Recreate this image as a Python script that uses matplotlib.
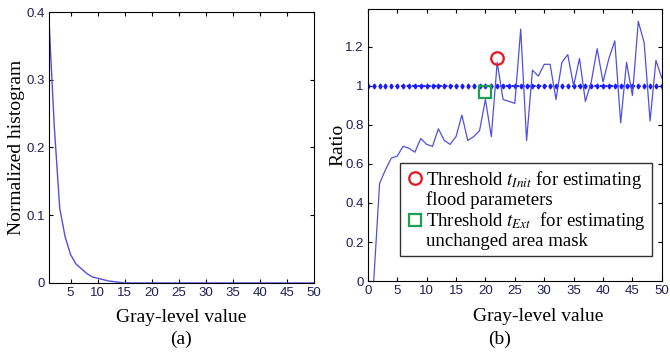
import numpy as np
import matplotlib
matplotlib.use('Agg')
import matplotlib.pyplot as plt
from matplotlib.lines import Line2D

plt.rcParams['mathtext.fontset'] = 'stix'

# (a) normalized histogram, gray levels 1..50
gray_a = np.arange(1, 51)
hist_a = [0.39, 0.23, 0.11, 0.068, 0.042, 0.028, 0.021, 0.014, 0.009, 0.007,
          0.005, 0.003, 0.002, 0.001] + [0.0] * 36

# (b) ratio, gray levels 1..50
gray_b = np.arange(1, 51)
ratio_b = [0.0, 0.50, 0.57, 0.63, 0.64, 0.69, 0.68, 0.66, 0.73, 0.70,
           0.69, 0.78, 0.72, 0.70, 0.74, 0.85, 0.72, 0.74, 0.77, 0.93,
           0.74, 1.12, 0.93, 0.92, 0.91, 1.29, 0.72, 1.08, 1.05, 1.11,
           1.11, 0.93, 1.12, 1.16, 1.00, 1.14, 0.92, 1.02, 1.19, 1.02,
           1.14, 1.23, 0.81, 1.12, 0.95, 1.33, 1.22, 0.82, 1.13, 1.04]
ref_x = np.arange(0, 51)
t_init = (22, 1.14)
t_ext = (20, 0.97)

line_col = '#5050e0'
tick_col = '#1e1e5a'
tick_font = ['Liberation Sans Narrow', 'Liberation Sans', 'DejaVu Sans']
serif = 'Liberation Serif'

fig = plt.figure(figsize=(6.7, 3.54), dpi=100)
ax1 = fig.add_axes([0.073, 0.2006, 0.396, 0.7655])
ax2 = fig.add_axes([0.549, 0.206, 0.4388, 0.7684])

for ax in (ax1, ax2):
    ax.tick_params(direction='in', top=True, right=True, length=3,
                   labelsize=9.5, labelcolor=tick_col, width=0.8, pad=3)
    for s in ax.spines.values():
        s.set_linewidth(0.8)

# panel (a)
ax1.plot(gray_a, hist_a, color=line_col, lw=1)
ax1.set_xlim(1, 50)
ax1.set_ylim(0, 0.4)
ax1.set_xticks(range(5, 51, 5))
ax1.set_yticks([0, 0.1, 0.2, 0.3, 0.4])
ax1.set_yticklabels(['0', '0.1', '0.2', '0.3', '0.4'], family=tick_font)
ax1.set_xticklabels([str(v) for v in range(5, 51, 5)], family=tick_font)
ax1.set_ylabel('Normalized histogram', family=serif, fontsize=14)
ax1.yaxis.set_label_coords(-0.09, 0.5)

# panel (b)
ax2.plot(ref_x, np.ones(len(ref_x)), color='#1a1aff', ls=':', lw=1.5,
         marker='d', ms=2.5)
ax2.plot(gray_b, ratio_b, color=line_col, lw=0.9)
ax2.plot(*t_init, marker='o', ms=9, mfc='none', mec='#e8141e', mew=1.6, ls='none')
ax2.plot(*t_ext, marker='s', ms=9, mfc='none', mec='#1aa050', mew=1.6, ls='none')
ax2.set_xlim(0, 50)
ax2.set_ylim(0, 1.393)
ax2.set_xticks(range(0, 51, 5))
ax2.set_xticklabels([str(v) for v in range(0, 51, 5)], family=tick_font)
ax2.set_yticks([0, 0.2, 0.4, 0.6, 0.8, 1.0, 1.2])
ax2.set_yticklabels(['0', '0.2', '0.4', '0.6', '0.8', '1', '1.2'], family=tick_font)
ax2.set_ylabel('Ratio', family=serif, fontsize=14)
ax2.yaxis.set_label_coords(-0.072, 0.5)

# legend: marker sits beside the first line of each two-line entry
blank = Line2D([], [], ls='none', marker='none')
handles = [Line2D([], [], marker='o', ms=9, mfc='none', mec='#e8141e', mew=1.6, ls='none'),
           blank,
           Line2D([], [], marker='s', ms=9, mfc='none', mec='#1aa050', mew=1.6, ls='none'),
           blank]
labels = ['Threshold $t_{Init}$ for estimating', 'flood parameters',
          'Threshold $t_{Ext}$  for estimating', 'unchanged area mask']
leg = ax2.legend(handles, labels, loc='lower left', bbox_to_anchor=(0.11, 0.092),
                 prop={'family': serif, 'size': 13.5}, fancybox=False, frameon=True,
                 edgecolor='black', handletextpad=0.1, handlelength=1.0,
                 labelspacing=0.05, borderpad=0.3, borderaxespad=0)
leg.get_frame().set_linewidth(1.0)

fig.text(0.270, 0.102, 'Gray-level value', family=serif, fontsize=14, ha='center', va='center')
fig.text(0.270, 0.04, '(a)', family=serif, fontsize=14, ha='center', va='center')
fig.text(0.803, 0.105, 'Gray-level value', family=serif, fontsize=14, ha='center', va='center')
fig.text(0.746, 0.04, '(b)', family=serif, fontsize=14, ha='center', va='center')

fig.savefig('out.png', dpi=100)
